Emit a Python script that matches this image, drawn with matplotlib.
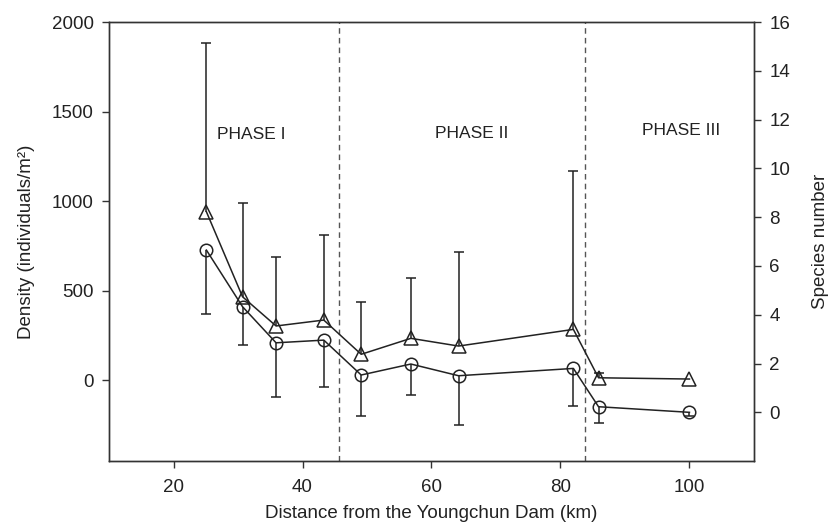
import matplotlib
matplotlib.use("Agg")
import matplotlib.pyplot as plt
import numpy as np

plt.rcParams['font.family'] = ['Liberation Sans', 'DejaVu Sans']

# Data
distance = [25.1, 30.7, 35.9, 43.3, 49.1, 56.8, 64.2, 82.0, 85.9, 100.0]
density = [941, 467, 304, 337, 146, 235, 192, 285, 15, 8]
density_err_up = [940, 525, 383, 476, 291, 335, 526, 885, 25, 0]
species = [6.65, 4.33, 2.85, 2.96, 1.53, 1.98, 1.50, 1.80, 0.23, 0.0]
species_err_low = [2.62, 1.57, 2.21, 1.91, 1.69, 1.27, 2.02, 1.55, 0.68, 0.14]
phase_bounds = [45.6, 83.8]
phase_labels = ["PHASE I", "PHASE II", "PHASE III"]
phase_x = [32.0, 66.3, 98.7]
phase_y = [1370, 1380, 1392]
left_ticks = [0, 500, 1000, 1500, 2000]
right_ticks = [0, 2, 4, 6, 8, 10, 12, 14, 16]
x_ticks = [20, 40, 60, 80, 100]

col = '#222222'
fs = 13.5

fig = plt.figure(figsize=(8.33, 5.24), dpi=100)
ax = fig.add_axes([0.1309, 0.120, 0.7742, 0.838])
ax2 = ax.twinx()

n = len(distance)
# density (triangles, left axis) with upper error bars only
eb1 = ax.errorbar(distance, density, yerr=[np.zeros(n), density_err_up],
                  fmt='-', marker='^', ms=10, mfc='none', mec=col, mew=1.1,
                  color=col, lw=1.1, ecolor=col, elinewidth=1.1, capsize=3.6, capthick=1.1)
eb1[1][0].set_visible(False)
up_caps = eb1[1][1]
xd, yd = up_caps.get_data()
mask = np.array(density_err_up) > 0
up_caps.set_data(np.asarray(xd)[mask], np.asarray(yd)[mask])

# species (circles, right axis) with lower error bars only
eb2 = ax2.errorbar(distance, species, yerr=[species_err_low, np.zeros(n)],
                   fmt='-', marker='o', ms=9, mfc='none', mec=col, mew=1.1,
                   color=col, lw=1.1, ecolor=col, elinewidth=1.1, capsize=3.6, capthick=1.1)
eb2[1][1].set_visible(False)

for b in phase_bounds:
    ax.axvline(b, color='#555555', lw=1.0, ls=(0, (4, 3)))

for lab, px, py in zip(phase_labels, phase_x, phase_y):
    ax.text(px, py, lab, ha='center', va='center', fontsize=12.5, color=col)

ax.set_xlim(10, 110)
ax.set_ylim(-450, 2000)
ax2.set_ylim(-2, 16)
ax.set_xticks(x_ticks)
ax.set_yticks(left_ticks)
ax2.set_yticks(right_ticks)

for a in (ax, ax2):
    for s in a.spines.values():
        s.set_color('#333333')
        s.set_linewidth(1.0)
    a.tick_params(direction='out', length=5, width=1, colors='#333333',
                  labelsize=fs, labelcolor=col, pad=6)
ax.tick_params(axis='x', pad=8)

ax.set_xlabel("Distance from the Youngchun Dam (km)", fontsize=fs, color=col, labelpad=6)
ax.set_ylabel("Density (individuals/m²)", fontsize=fs, color=col, labelpad=12)
ax2.set_ylabel("Species number", fontsize=fs, color=col, labelpad=16)

fig.savefig("out.png", dpi=100)
